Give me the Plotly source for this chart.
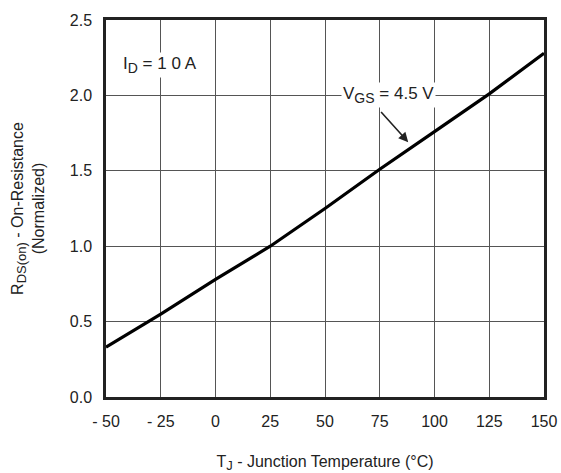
import plotly.graph_objects as go

temps = [-50, -25, 0, 25, 50, 75, 100, 125, 150]
rds_norm = [0.33, 0.55, 0.78, 1.0, 1.25, 1.51, 1.76, 2.01, 2.28]
x_ticks = [-50, -25, 0, 25, 50, 75, 100, 125, 150]
x_ticktext = ["- 50", "- 25", "0", "25", "50", "75", "100", "125", "150"]
y_ticks = [0.0, 0.5, 1.0, 1.5, 2.0, 2.5]
y_ticktext = ["0.0", "0.5", "1.0", "1.5", "2.0", "2.5"]

FONT = "Liberation Sans, Arial, sans-serif"
SUB = '<sub><span style="font-size:13px">{}</span></sub>'
SUB2 = '<sub><span style="font-size:14px">{}</span></sub>'

fig = go.Figure()
fig.add_trace(go.Scatter(x=temps, y=rds_norm, mode="lines",
                         line=dict(color="black", width=3.2), showlegend=False))

fig.add_annotation(x=-25.5, y=2.2, text="I" + SUB2.format("D") + " = 1 0 A", showarrow=False,
                   font=dict(family=FONT, size=17, color="#222"), bgcolor="white")
fig.add_annotation(x=79, y=2.0, text="V" + SUB2.format("GS") + " = 4.5 V", showarrow=False,
                   font=dict(family=FONT, size=17, color="#222"), bgcolor="white")
fig.add_annotation(x=88, y=1.69, ax=75, ay=1.9, axref="x", ayref="y",
                   text="", showarrow=True,
                   arrowhead=2, arrowsize=1.2, arrowwidth=1.6, arrowcolor="#222",
                   standoff=0, startstandoff=0)

fig.update_layout(
    width=561, height=473,
    margin=dict(l=106, r=17, t=17, b=76),
    paper_bgcolor="white", plot_bgcolor="white",
    font=dict(family=FONT, size=16, color="#222"),
    xaxis=dict(range=[-50, 150], tickvals=x_ticks, ticktext=x_ticktext,
               showgrid=True, gridcolor="#555", gridwidth=1,
               showline=True, linecolor="#222", linewidth=2.5, mirror=True,
               zeroline=False, ticks="", ticklen=0, ticklabelstandoff=8,
               automargin=False,
               title=dict(text="T" + SUB.format("J") + " - Junction Temperature (°C)",
                          font=dict(size=16), standoff=27)),
    yaxis=dict(range=[0, 2.5], tickvals=y_ticks, ticktext=y_ticktext,
               showgrid=True, gridcolor="#555", gridwidth=1,
               showline=True, linecolor="#222", linewidth=2.5, mirror=True,
               zeroline=False, ticks="", ticklen=0, ticklabelstandoff=8,
               title=dict(text="R" + SUB.format("DS(on)") + " - On-Resistance<br>(Normalized)",
                          font=dict(size=16), standoff=22)),
)

fig.write_html("out.html")
